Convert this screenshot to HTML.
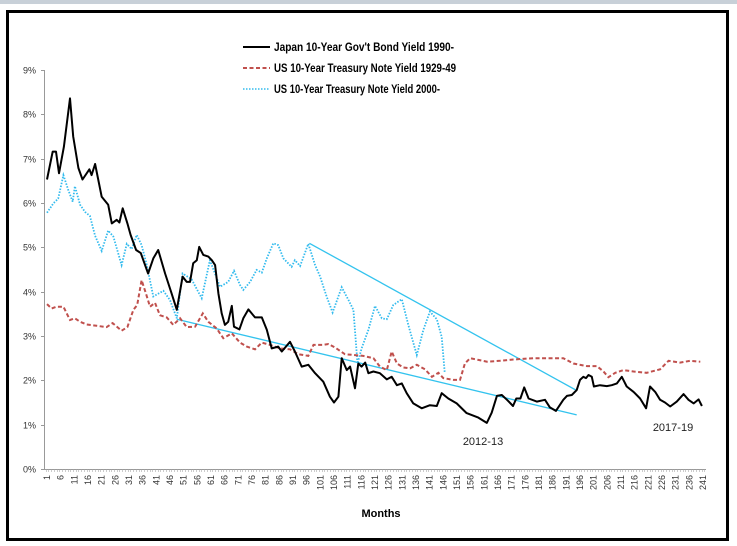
<!DOCTYPE html>
<html><head><meta charset="utf-8"><style>
html,body{margin:0;padding:0;background:#fff;}
svg{display:block;font-family:"Liberation Sans",sans-serif;}
</style></head><body>
<svg id="chart" width="737" height="546" viewBox="0 0 737 546" xmlns="http://www.w3.org/2000/svg">
<rect x="0" y="0" width="737" height="4" fill="#c8d0d8"/>
<rect x="7.5" y="11.5" width="720" height="528" fill="#fff" stroke="#000" stroke-width="3"/>
<g id="axes"></g>
<g id="series"></g>
<g id="legend">
 <line x1="243" y1="47" x2="270" y2="47" stroke="#000" stroke-width="2"/>
 <text x="274" y="51" font-size="12" font-weight="bold" textLength="180" lengthAdjust="spacingAndGlyphs">Japan 10-Year Gov't Bond Yield 1990-</text>
 <line x1="243" y1="68" x2="270" y2="68" stroke="#c0504d" stroke-width="2" stroke-dasharray="4,2.5"/>
 <text x="274" y="72" font-size="12" font-weight="bold" textLength="182" lengthAdjust="spacingAndGlyphs">US 10-Year Treasury Note Yield 1929-49</text>
 <line x1="243" y1="89" x2="270" y2="89" stroke="#33bbee" stroke-width="1.5" stroke-dasharray="1.5,1.5"/>
 <text x="274" y="93" font-size="12" font-weight="bold" textLength="166" lengthAdjust="spacingAndGlyphs">US 10-Year Treasury Note Yield 2000-</text>
</g>
<text x="483" y="445" font-size="11" text-anchor="middle" fill="#222">2012-13</text>
<text x="673" y="431" font-size="11" text-anchor="middle" fill="#222">2017-19</text>
<text x="381" y="517" font-size="11" font-weight="bold" text-anchor="middle">Months</text>
</svg>
<script>
const japanMonths=[1,3.1,4.3,5.4,7.2,9.4,10.6,12.5,14,16.5,17.3,18.6,21,23.4,24.7,26.5,27.5,28.7,30.4,31.6,33.6,35.3,38,39.9,41.7,44.2,46.6,48.5,50.6,52.1,53.3,54.5,55.8,56.7,58.2,60,61.3,62.5,63.7,64.9,66.1,67.3,68.6,69.4,71.4,72.8,74.7,77.1,79.6,81.4,83.2,85.6,86.9,89.9,91.7,94.2,96.6,99.1,102.1,104.5,106,107.6,108.8,110.7,111.9,113.7,114.9,116.1,117.4,118.6,120.4,122.8,125.3,127.1,129,130.8,132.6,135,138.1,141.1,143.6,145.4,147.8,150.9,154.5,158.8,161.9,163.7,165.6,167.4,169.3,171.5,172.7,174.2,175.6,177.2,180.2,183.2,185,187.2,189.9,191.2,193,194.8,196,197.2,198.2,199.1,200.3,201.1,203.3,205.8,207.6,209.5,211.3,213.1,215.6,218,220.2,221.6,223.5,225.3,227.1,229,231.4,233.9,235.7,237.6,239.4,240.6];
const japanValues=[6.53,7.16,7.16,6.67,7.27,8.36,7.5,6.79,6.53,6.76,6.63,6.88,6.14,5.96,5.54,5.62,5.56,5.88,5.54,5.28,4.94,4.87,4.41,4.75,4.94,4.41,3.96,3.59,4.34,4.22,4.22,4.64,4.71,5.01,4.83,4.79,4.71,4.6,3.96,3.51,3.25,3.32,3.68,3.21,3.15,3.4,3.6,3.42,3.42,3.14,2.72,2.76,2.65,2.87,2.65,2.31,2.35,2.16,1.97,1.63,1.5,1.63,2.5,2.23,2.31,1.82,2.38,2.31,2.4,2.16,2.2,2.16,2.02,2.08,1.89,1.93,1.71,1.48,1.37,1.44,1.42,1.71,1.59,1.48,1.26,1.16,1.04,1.27,1.65,1.67,1.56,1.42,1.59,1.59,1.84,1.59,1.52,1.56,1.39,1.31,1.56,1.65,1.67,1.78,2.01,2.08,2.05,2.12,2.08,1.86,1.89,1.87,1.89,1.93,2.08,1.86,1.74,1.59,1.37,1.86,1.74,1.56,1.5,1.41,1.52,1.69,1.56,1.48,1.57,1.42];
const us1929Months=[1,2.7,4.5,7,9.4,11.2,13.1,15.5,19.2,22.8,25,28.3,30.4,32.6,34,35.6,37.2,38.7,40.5,42.3,44.8,47.2,49.7,52.1,55.2,58,60,63.1,65.5,68.6,71.6,74.1,77.1,79.6,82.6,86.3,89.9,93,96.6,98.5,102.1,104,106.4,110,113.7,116.7,120.4,122.8,125.3,127.1,129,131.4,133.8,136.3,139.3,141.8,144.2,146,149.7,152.1,153.9,155.8,158.8,162,166.7,171.6,178.9,189.9,193.6,198.5,202.2,204.6,206.4,208.9,211.9,215.6,220.4,225.3,228.4,232.6,236.3,240];
const us1929Values=[3.72,3.62,3.66,3.66,3.36,3.4,3.32,3.26,3.23,3.2,3.29,3.12,3.2,3.59,3.7,4.26,3.96,3.66,3.75,3.47,3.42,3.25,3.4,3.2,3.21,3.51,3.32,3.17,2.95,3.06,2.85,2.76,2.7,2.85,2.8,2.72,2.7,2.59,2.55,2.8,2.8,2.82,2.74,2.59,2.57,2.55,2.5,2.31,2.23,2.65,2.38,2.29,2.27,2.35,2.25,2.08,2.17,2.05,2.01,2.01,2.38,2.5,2.46,2.42,2.44,2.47,2.5,2.5,2.38,2.32,2.32,2.2,2.07,2.17,2.23,2.2,2.17,2.25,2.44,2.4,2.44,2.42];
const us2000Months=[1,3.3,5.1,7,8.8,10.4,11.2,13.1,14.9,16.7,18.6,21,23.4,25.3,28.3,30.2,32,33.8,35.6,37.5,39.9,43.6,46,48.5,50.6,53.9,57.6,60.6,64.3,67.3,69.4,71.6,72.8,75.3,77.7,79.6,81.4,83.8,85.6,87.5,90.5,91.7,93.6,96.6,99.1,100.9,103.3,105.5,108.8,111.3,113.1,114.6,116.1,118.6,121,123.5,125.3,127.7,130.8,133.2,136.3,138.7,141.1,143.6,145.4,146.5];
const us2000Values=[5.78,5.99,6.1,6.63,6.29,6.03,6.38,5.96,5.8,5.71,5.26,4.92,5.38,5.24,4.6,5.08,4.96,5.28,5.05,4.6,3.89,4.02,3.81,3.4,4.41,4.28,3.85,4.71,4.11,4.22,4.47,4.15,4.04,4.22,4.49,4.43,4.75,5.09,5.05,4.75,4.56,4.71,4.58,5.08,4.6,4.34,3.89,3.53,4.1,3.81,3.59,2.38,2.72,3.14,3.68,3.4,3.38,3.7,3.83,3.25,2.57,3.14,3.55,3.38,2.98,2.18];
const upperTrendMonths=[97,194.8];
const upperTrendValues=[5.09,1.77];
const lowerTrendMonths=[48.5,194.8];
const lowerTrendValues=[3.38,1.22];
const yTicks=[0,1,2,3,4,5,6,7,8,9];
const yTickLabels=["0%","1%","2%","3%","4%","5%","6%","7%","8%","9%"];

const NS="http://www.w3.org/2000/svg";
const X=m=>47+(m-1)*(703-47)/240;
const Y=v=>469-v*(469-70)/9;
function mk(tag,attrs,parent){const e=document.createElementNS(NS,tag);for(const k in attrs)e.setAttribute(k,attrs[k]);parent.appendChild(e);return e;}
const axes=document.getElementById('axes');
const series=document.getElementById('series');
let e=mk('line',{x1:44.5,y1:70,x2:44.5,y2:469,stroke:'#999','stroke-width':1},axes);


e=mk('line',{x1:44.5,y1:469.5,x2:706,y2:469.5,stroke:'#999','stroke-width':1},axes);


yTicks.forEach((t,i)=>{
  const y=Math.round(Y(t))+0.5;
  const tk=mk('line',{x1:41,y1:y,x2:44.5,y2:y,stroke:'#999'},axes);
  
  
  const tx=mk('text',{x:36,y:y+3,'font-size':9,'text-anchor':'end',fill:'#333'},axes);
  tx.textContent=yTickLabels[i];
  
  
});
for(let m=1;m<=242;m++){
  const x=Math.round(X(m-0.5))+0.5;
  const tk=mk('line',{x1:x,y1:469.5,x2:x,y2:472,stroke:'#aaa','stroke-width':0.6},axes);
  
  
}
for(let m=1;m<=241;m+=5){
  const x=X(m)+3;
  const tx=mk('text',{x:x,y:475,'font-size':9,'text-anchor':'end',fill:'#333',transform:`rotate(-90 ${x} 475)`},axes);
  tx.textContent=String(m);
  
  
}
function pts(ms,vs){return ms.map((m,i)=>X(m).toFixed(1)+','+Y(vs[i]).toFixed(1)).join(' ');}
e=mk('polyline',{points:pts(upperTrendMonths,upperTrendValues),fill:'none',stroke:'#33c3ee','stroke-width':1.3},series);


e=mk('polyline',{points:pts(lowerTrendMonths,lowerTrendValues),fill:'none',stroke:'#33c3ee','stroke-width':1.3},series);


e=mk('polyline',{points:pts(us2000Months,us2000Values),fill:'none',stroke:'#33bbee','stroke-width':1.8,'stroke-dasharray':'1.5,1.5'},series);


e=mk('polyline',{points:pts(us1929Months,us1929Values),fill:'none',stroke:'#c0504d','stroke-width':2,'stroke-dasharray':'4,2.5'},series);


e=mk('polyline',{points:pts(japanMonths,japanValues),fill:'none',stroke:'#000','stroke-width':2,'stroke-linejoin':'round'},series);


</script>
</body></html>
